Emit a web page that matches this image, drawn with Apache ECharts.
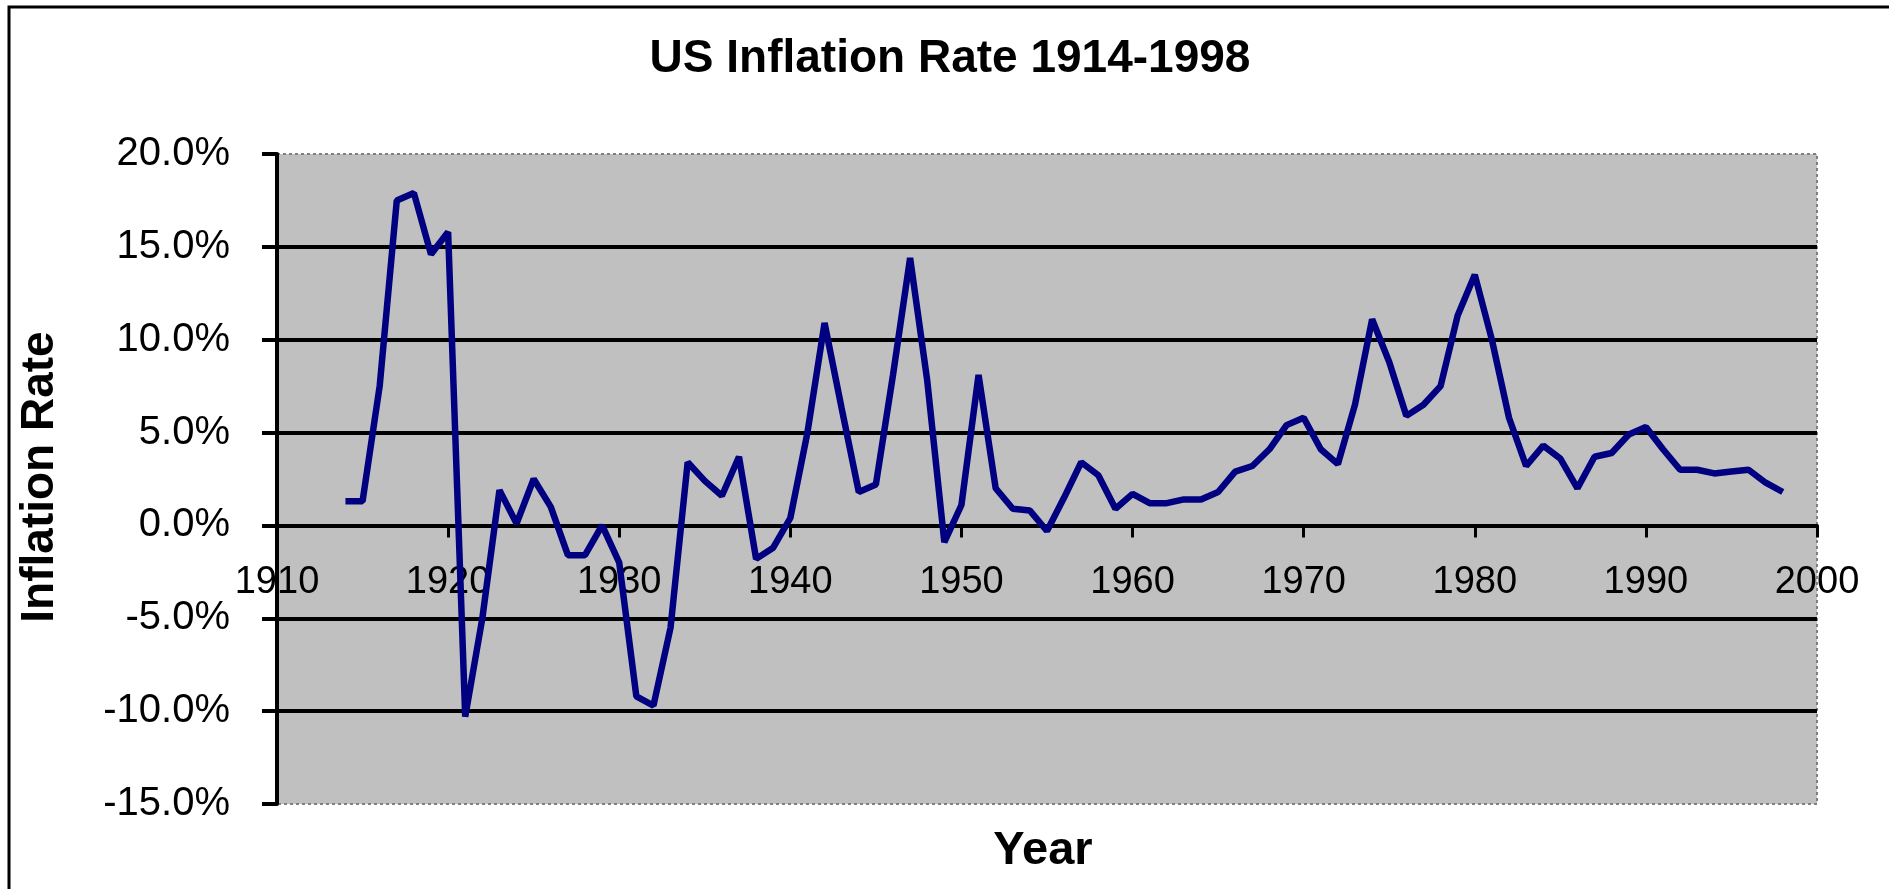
<!DOCTYPE html>
<html>
<head>
<meta charset="utf-8">
<title>US Inflation Rate 1914-1998</title>
<script src="https://cdn.jsdelivr.net/npm/echarts@6/dist/echarts.min.js"></script>
<style>
  html, body { margin: 0; padding: 0; background: #fff; }
  #chart { width: 1889px; height: 889px; }
</style>
</head>
<body>
<div id="chart"></div>
<script>
// data, one value per year starting at firstYear
const firstYear = 1914;
const inflationRates = [
  1.3, 1.3, 7.5, 17.5, 17.9, 14.6, 15.8, -10.3, -5.0, 1.9,   // 1914-1923
  0.1, 2.5, 1.0, -1.6, -1.6, 0.0, -2.0, -9.2, -9.7, -5.5,    // 1924-1933
  3.4, 2.4, 1.6, 3.7, -1.8, -1.2, 0.4, 5.0, 10.9, 6.3,       // 1934-1943
  1.8, 2.2, 8.1, 14.4, 7.8, -0.9, 1.1, 8.1, 2.0, 0.9,        // 1944-1953
  0.8, -0.3, 1.5, 3.4, 2.7, 0.9, 1.7, 1.2, 1.2, 1.4,         // 1954-1963
  1.4, 1.8, 2.9, 3.2, 4.1, 5.4, 5.8, 4.1, 3.3, 6.5,          // 1964-1973
  11.1, 8.8, 5.9, 6.5, 7.5, 11.3, 13.5, 10.0, 5.8, 3.2,      // 1974-1983
  4.3, 3.6, 2.0, 3.7, 3.9, 4.9, 5.3, 4.1, 3.0, 3.0,          // 1984-1993
  2.8, 2.9, 3.0, 2.3, 1.8                                    // 1994-1998
];
const xTicks = { min: 1910, max: 2000, step: 10 };
const yTicks = { min: -15, max: 20, step: 5 };

const points = inflationRates.map((v, i) => [firstYear + i, v]);

const font = 'Liberation Sans, Arial, sans-serif';
const gridTop = 154, gridBottom = 85, chartH = 889;
// x axis sits on the 0% line; place it there with an offset from the grid bottom
const plotH = chartH - gridTop - gridBottom;
const zeroOffset = -plotH * (0 - yTicks.min) / (yTicks.max - yTicks.min);

const chart = echarts.init(document.getElementById('chart'));

chart.setOption({
  backgroundColor: '#ffffff',
  animation: false,
  title: {
    text: 'US Inflation Rate 1914-1998',
    left: 945,
    textAlign: 'center',
    top: 31,
    textStyle: { fontFamily: font, fontSize: 46, fontWeight: 'bold', color: '#000' }
  },
  grid: {
    left: 277, right: 72, top: gridTop, bottom: gridBottom,
    show: true,
    backgroundColor: '#c0c0c0',
    borderColor: '#808080',
    borderWidth: 2,
    borderType: [3, 3]
  },
  xAxis: {
    type: 'value',
    position: 'bottom',
    offset: zeroOffset,
    min: xTicks.min, max: xTicks.max, interval: xTicks.step,
    axisLine: { onZero: false, lineStyle: { color: '#000', width: 4 } },
    axisTick: { show: true, inside: false, length: 12, lineStyle: { color: '#000', width: 3 } },
    axisLabel: {
      margin: 38,
      fontFamily: font, fontSize: 38, color: '#000',
      formatter: (v) => String(v)
    },
    splitLine: { show: false }
  },
  yAxis: {
    type: 'value',
    min: yTicks.min, max: yTicks.max, interval: yTicks.step,
    axisLine: { show: true, lineStyle: { color: '#000', width: 4 } },
    axisTick: { show: true, inside: false, length: 15, lineStyle: { color: '#000', width: 4 } },
    axisLabel: {
      margin: 47,
      fontFamily: font, fontSize: 40, color: '#000',
      formatter: (v) => v.toFixed(1) + '%'
    },
    splitLine: {
      show: true,
      showMinLine: false,
      showMaxLine: false,
      lineStyle: { color: '#000', width: 4 }
    }
  },
  series: [{
    type: 'line',
    data: points,
    showSymbol: false,
    smooth: false,
    lineStyle: { color: '#000080', width: 6.5 },
    z: 5
  }],
  graphic: [
    {
      type: 'rect',
      shape: { x: 9, y: 7, width: 3000, height: 3000 },
      style: { fill: 'none', stroke: '#000', lineWidth: 3 },
      silent: true
    },
    {
      type: 'text',
      x: 40, y: 477,
      rotation: Math.PI / 2,
      style: {
        text: 'Inflation Rate',
        fontFamily: font, fontSize: 46, fontWeight: 'bold', fill: '#000',
        align: 'center', verticalAlign: 'middle'
      }
    },
    {
      type: 'text',
      x: 1043, y: 851,
      style: {
        text: 'Year',
        fontFamily: font, fontSize: 47, fontWeight: 'bold', fill: '#000',
        align: 'center', verticalAlign: 'middle'
      }
    }
  ]
});
</script>
</body>
</html>
